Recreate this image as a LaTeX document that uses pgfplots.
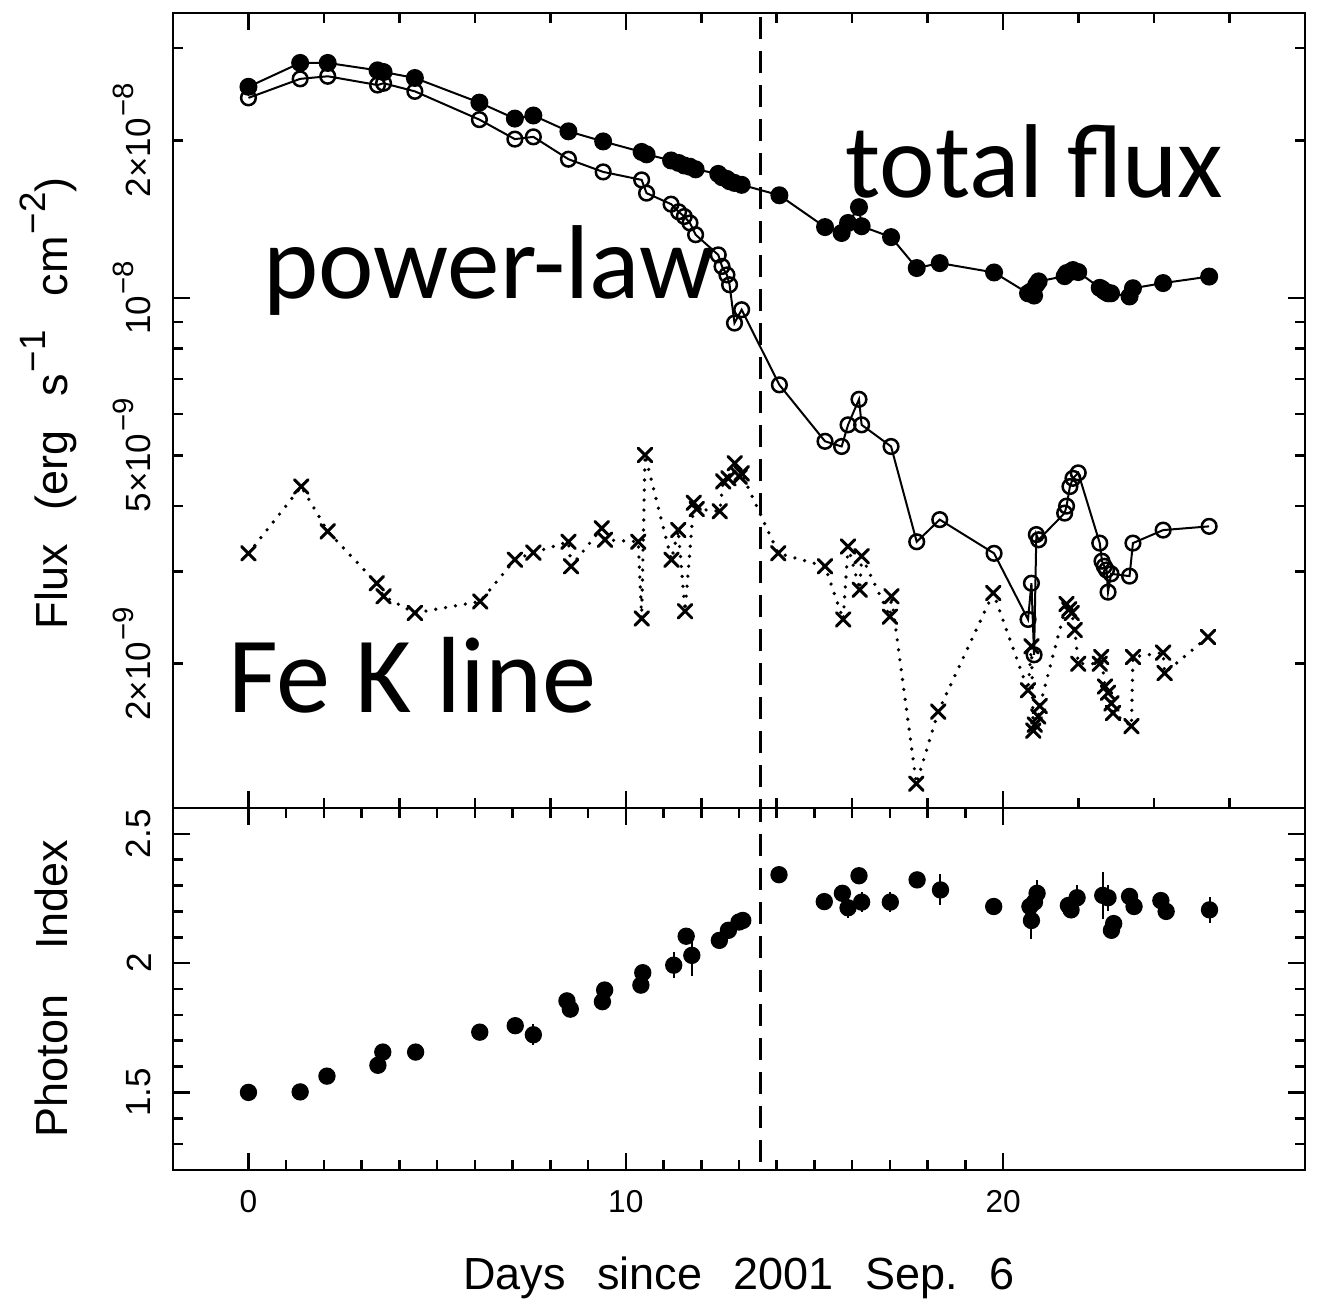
\documentclass[border=0pt]{standalone}
\usepackage{fontspec}
\setmainfont{Liberation Sans}
\newfontfamily\annot{Carlito}
\usepackage{pgfplots}
\usepackage{pgfplotstable}
\pgfplotsset{compat=1.18}
\newcommand\tsup[1]{\hspace{0.05em}\raisebox{0.5em}{\fontsize{8.8}{10}\selectfont #1}}
\newcommand\lsup[1]{\hspace{0.05em}\raisebox{0.5em}{\fontsize{11}{12}\selectfont #1}}

\pgfplotstableread{
t f p
0.00 2.53e-8 2.41e-8
1.37 2.81e-8 2.62e-8
2.10 2.81e-8 2.65e-8
3.42 2.72e-8 2.55e-8
3.58 2.70e-8 2.57e-8
4.41 2.63e-8 2.48e-8
6.12 2.36e-8 2.19e-8
7.06 2.20e-8 2.01e-8
7.55 2.23e-8 2.03e-8
8.48 2.08e-8 1.84e-8
9.40 1.99e-8 1.74e-8
10.42 1.90e-8 1.68e-8
10.55 1.88e-8 1.585e-8
11.20 1.83e-8 1.51e-8
11.40 1.81e-8 1.46e-8
11.55 1.79e-8 1.43e-8
11.70 1.78e-8 1.39e-8
11.85 1.76e-8 1.32e-8
12.45 1.725e-8 1.208e-8
12.55 1.70e-8 1.148e-8
12.68 1.687e-8 1.106e-8
12.75 1.67e-8 1.059e-8
12.88 1.658e-8 8.95e-9
13.07 1.644e-8 9.49e-9
14.07 1.57e-8 6.82e-9
15.28 1.365e-8 5.32e-9
15.72 1.33e-8 5.20e-9
15.89 1.39e-8 5.72e-9
16.18 1.49e-8 6.40e-9
16.25 1.37e-8 5.72e-9
17.03 1.306e-8 5.20e-9
17.71 1.14e-8 3.42e-9
18.32 1.165e-8 3.77e-9
19.76 1.118e-8 3.25e-9
20.66 1.02e-8 2.43e-9
20.75 1.03e-8 2.85e-9
20.82 1.01e-8 2.08e-9
20.88 1.06e-8 3.53e-9
20.94 1.075e-8 3.45e-9
21.63 1.10e-8 3.88e-9
21.68 1.115e-8 4.00e-9
21.77 1.12e-8 4.36e-9
21.85 1.13e-8 4.52e-9
21.99 1.12e-8 4.63e-9
22.56 1.045e-8 3.40e-9
22.62 1.04e-8 3.14e-9
22.68 1.03e-8 3.07e-9
22.74 1.025e-8 3.02e-9
22.78 1.02e-8 2.74e-9
22.86 1.02e-8 2.97e-9
23.35 1.006e-8 2.94e-9
23.44 1.043e-8 3.40e-9
24.24 1.067e-8 3.60e-9
25.46 1.098e-8 3.66e-9
}\fluxtab

\pgfplotstableread{
t fe
0.00 3.25e-9
1.40 4.36e-9
2.10 3.58e-9
3.40 2.85e-9
3.58 2.69e-9
4.41 2.50e-9
6.14 2.63e-9
7.06 3.16e-9
7.55 3.26e-9
8.48 3.42e-9
8.55 3.07e-9
9.36 3.63e-9
9.45 3.45e-9
10.33 3.42e-9
10.42 2.44e-9
10.51 5.01e-9
11.21 3.16e-9
11.39 3.60e-9
11.57 2.52e-9
11.80 4.06e-9
11.88 3.95e-9
12.49 3.91e-9
12.58 4.46e-9
12.72 4.52e-9
12.89 4.83e-9
13.02 4.55e-9
13.07 4.62e-9
14.04 3.25e-9
15.28 3.07e-9
15.76 2.43e-9
15.89 3.35e-9
16.20 2.77e-9
16.25 3.21e-9
17.00 2.46e-9
17.04 2.69e-9
17.70 1.18e-9
18.28 1.62e-9
19.74 2.73e-9
20.66 1.78e-9
20.75 2.16e-9
20.80 1.49e-9
20.84 1.53e-9
20.93 1.585e-9
20.97 1.66e-9
21.68 2.60e-9
21.75 2.54e-9
21.82 2.50e-9
21.90 2.32e-9
21.99 2.00e-9
22.56 2.00e-9
22.60 2.06e-9
22.70 1.81e-9
22.78 1.76e-9
22.87 1.68e-9
22.91 1.61e-9
23.40 1.52e-9
23.44 2.06e-9
24.24 2.10e-9
24.28 1.92e-9
25.43 2.25e-9
}\fetab

\pgfplotstableread{
t g e
0.00 1.500 0.02
1.37 1.502 0.02
2.08 1.563 0.02
3.43 1.605 0.03
3.56 1.656 0.03
4.43 1.656 0.02
6.13 1.733 0.02
7.07 1.758 0.02
7.55 1.723 0.04
8.44 1.854 0.03
8.53 1.822 0.02
9.38 1.851 0.02
9.44 1.896 0.02
10.40 1.915 0.02
10.45 1.963 0.02
11.27 1.992 0.05
11.60 2.104 0.03
11.75 2.030 0.08
12.48 2.088 0.03
12.72 2.127 0.03
13.00 2.159 0.02
13.10 2.165 0.02
14.06 2.342 0.02
15.26 2.238 0.02
15.74 2.270 0.03
15.89 2.214 0.04
16.18 2.338 0.03
16.25 2.236 0.04
17.01 2.236 0.04
17.72 2.322 0.02
18.34 2.283 0.06
19.75 2.219 0.03
20.71 2.219 0.03
20.75 2.165 0.07
20.83 2.236 0.04
20.90 2.270 0.05
21.73 2.223 0.03
21.80 2.206 0.03
21.96 2.253 0.05
22.64 2.262 0.09
22.78 2.253 0.05
22.87 2.127 0.03
22.93 2.153 0.03
23.35 2.258 0.03
23.47 2.219 0.03
24.18 2.242 0.03
24.32 2.200 0.02
25.47 2.206 0.05
}\gamtab

\pgfplotsset{
  panel/.style={
    scale only axis, width=339.6pt,
    xmin=-2, xmax=28,
    axis line style={line width=0.75pt},
    every tick/.style={black, line width=0.75pt},
    tick align=inside,
    major tick length=5.1pt, minor tick length=3pt,
    tick label style={font=\fontsize{10.5}{12}\selectfont},
    yticklabel style={xshift=-6.3pt, rotate=90, anchor=south, inner sep=0pt},
    label style={font=\fontsize{13.5}{16}\selectfont},
  }
}

\begin{document}
\begin{tikzpicture}
\begin{axis}[panel, name=top, height=238.5pt,
  ymode=log, ymin=1.06e-9, ymax=3.5e-8,
  xtick={0,10,20}, xticklabels={},
  minor xtick={2,4,6,8,12,14,16,18,22,24,26},
  ytick={1e-8}, yticklabels={10\tsup{−8}},
  extra y ticks={2e-9,5e-9,2e-8},
  extra y tick labels={2×10\tsup{−9},5×10\tsup{−9},2×10\tsup{−8}},
  extra y tick style={major tick length=3pt},
  minor ytick={3e-9,4e-9,6e-9,7e-9,8e-9,9e-9,3e-8},
  ylabel={Flux\hspace{0.75em}(erg\hspace{0.75em}s\lsup{−1}\hspace{0.75em}cm\lsup{−2})},
  ylabel style={at={(axis description cs:-0.0928,0.509)}, anchor=base, rotate=0},
]
\coordinate (TL) at (rel axis cs:0,1);
\addplot[black, line width=0.9pt, dash pattern=on 6.6pt off 3.6pt] coordinates {(13.56,1e-9) (13.56,4e-8)};
\addplot[black, line width=0.6pt, mark=*, mark size=2.4pt] table[x=t,y=f]{\fluxtab};
\addplot[black, line width=0.6pt, mark=o, mark size=2.2pt, mark options={line width=0.75pt}] table[x=t,y=p]{\fluxtab};
\addplot[black, line width=1.1pt, line cap=round, dash pattern=on 0pt off 3pt, mark=x, mark size=2.9pt, mark options={solid, line width=0.9pt}] table[x=t,y=fe]{\fetab};
\node[anchor=base west, inner sep=0pt, font=\annot\fontsize{31.5}{36}\selectfont] at (rel axis cs:0.5936,0.7686) {total flux};
\node[anchor=base west, inner sep=0pt, font=\annot\fontsize{31.5}{36}\selectfont] at (rel axis cs:0.0795,0.6415) {power-law};
\node[anchor=base west, inner sep=0pt, font=\annot\fontsize{32.5}{36}\selectfont] at (rel axis cs:0.0486,0.1199) {Fe K line};
\end{axis}
\begin{axis}[panel, at={(top.south west)}, anchor=north west, height=108.6pt,
  ymin=1.2, ymax=2.6,
  xtick={0,10,20}, xticklabels={0,10,20}, minor x tick num=9,
  xticklabel style={anchor=north, inner sep=0pt, yshift=-6pt, font=\fontsize{9.5}{11}\selectfont},
  ytick={1.5,2,2.5}, yticklabels={1.5,2,2.5},
  minor ytick={1.3,1.4,1.6,1.7,1.8,1.9,2.1,2.2,2.3,2.4},
  xlabel={Days\hspace{0.7em}since\hspace{0.7em}2001\hspace{0.7em}Sep.\hspace{0.7em}6},
  xlabel style={at={(axis description cs:0.5,-0.3315)}, anchor=base},
  ylabel={Photon\hspace{1em}Index},
  ylabel style={at={(axis description cs:-0.0928,0.501)}, anchor=base, rotate=0},
]
\addplot[black, line width=0.9pt, dash pattern=on 6.6pt off 3.6pt] coordinates {(13.56,1.1) (13.56,2.7)};
\addplot[black, only marks, mark=*, mark size=2.4pt,
  error bars/.cd, y dir=both, y explicit, error mark=none,
  error bar style={line width=0.6pt}] table[x=t,y=g,y error=e]{\gamtab};
\end{axis}
\path (TL) ++(-51.9pt,3.9pt) rectangle ++(398.4pt,-389.7pt);
\end{tikzpicture}
\end{document}
